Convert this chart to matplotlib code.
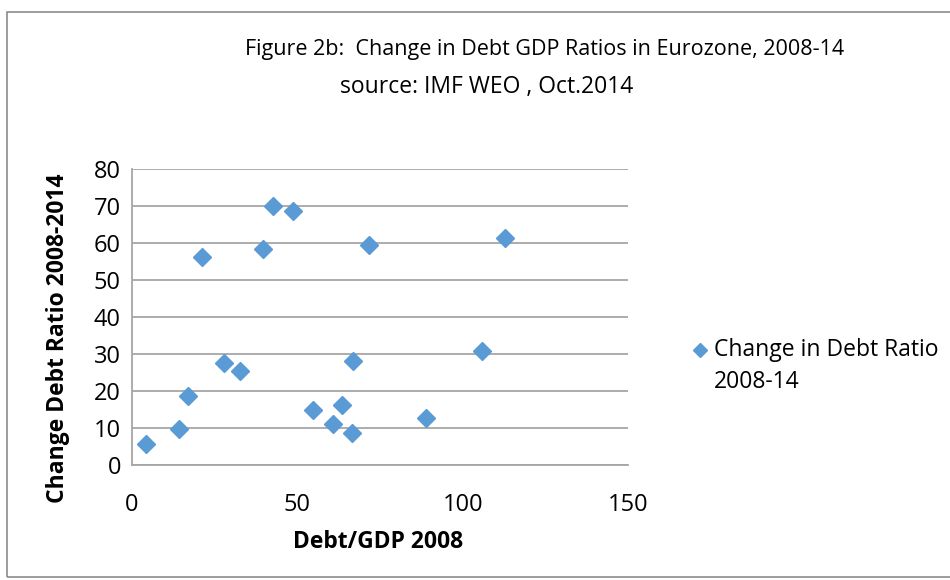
import matplotlib.pyplot as plt
from matplotlib.patches import Rectangle

# Eurozone: debt/GDP 2008 vs change in debt ratio 2008-14 (IMF WEO Oct 2014)
debt_2008 = [4.2, 14.2, 16.9, 21.3, 27.8, 32.6, 39.7, 42.5, 48.8,
             54.6, 60.9, 63.5, 66.9, 66.6, 71.7, 89.0, 105.7, 112.7]
change_debt = [5.7, 9.6, 18.6, 56.2, 27.7, 25.3, 58.5, 70.1, 68.6,
               15.0, 11.1, 16.2, 28.1, 8.6, 59.5, 12.8, 30.8, 61.4]
x_ticks = [0, 50, 100, 150]
y_ticks = [0, 10, 20, 30, 40, 50, 60, 70, 80]

plt.rcParams['font.family'] = ['Open Sans', 'DejaVu Sans']

fig = plt.figure(figsize=(9.5, 5.8), dpi=100)
fig.patches.append(Rectangle((7 / 950, 0.005), 1.2, 0.975, transform=fig.transFigure,
                             fill=False, edgecolor='#8c8c8c', linewidth=1.2))

ax = fig.add_axes([132 / 950, 1 - 465 / 580, 496 / 950, 296 / 580])
ax.plot(debt_2008, change_debt, linestyle='none', marker='D', markersize=9.2,
        color='#5b9bd5', label='Change in Debt Ratio\n2008-14')

ax.set_xlim(0, 150)
ax.set_ylim(0, 80)
ax.set_xticks(x_ticks)
ax.set_yticks(y_ticks)
ax.tick_params(length=0, labelsize=17)
ax.tick_params(axis='x', pad=20)
ax.tick_params(axis='y', pad=8)
ax.yaxis.grid(True, color='#a6a6a6', linewidth=1.3)
ax.set_axisbelow(True)
for side in ['top', 'right']:
    ax.spines[side].set_visible(False)
for side in ['left', 'bottom']:
    ax.spines[side].set_color('#a6a6a6')
    ax.spines[side].set_linewidth(1.3)

ax.set_xlabel('Debt/GDP 2008', fontsize=16.5, fontweight='bold', va='center')
ax.xaxis.set_label_coords(0.497, (465 - 542) / 296)
ax.set_ylabel('Change Debt Ratio 2008-2014', fontsize=16.5, fontweight='bold', va='center')
ax.yaxis.set_label_coords((58 - 132) / 496, (465 - 338) / 296)

fig.text(545 / 950, 1 - 50 / 580, 'Figure 2b:  Change in Debt GDP Ratios in Eurozone, 2008-14',
         ha='center', va='center', fontsize=15.5)
fig.text(487 / 950, 1 - 87 / 580, 'source: IMF WEO , Oct.2014',
         ha='center', va='center', fontsize=16.5)

leg = ax.legend(loc='upper left', bbox_to_anchor=(1.08, 0.50), frameon=False,
                fontsize=16.5, handletextpad=0.1, handlelength=1.0, markerscale=0.8)
leg.get_texts()[0].set_linespacing(1.45)
# Excel puts the marker level with the first line of the label
h = leg.legend_handles[0]
h.set_ydata(h.get_ydata() + 12)

fig.savefig('out.png', dpi=100)
